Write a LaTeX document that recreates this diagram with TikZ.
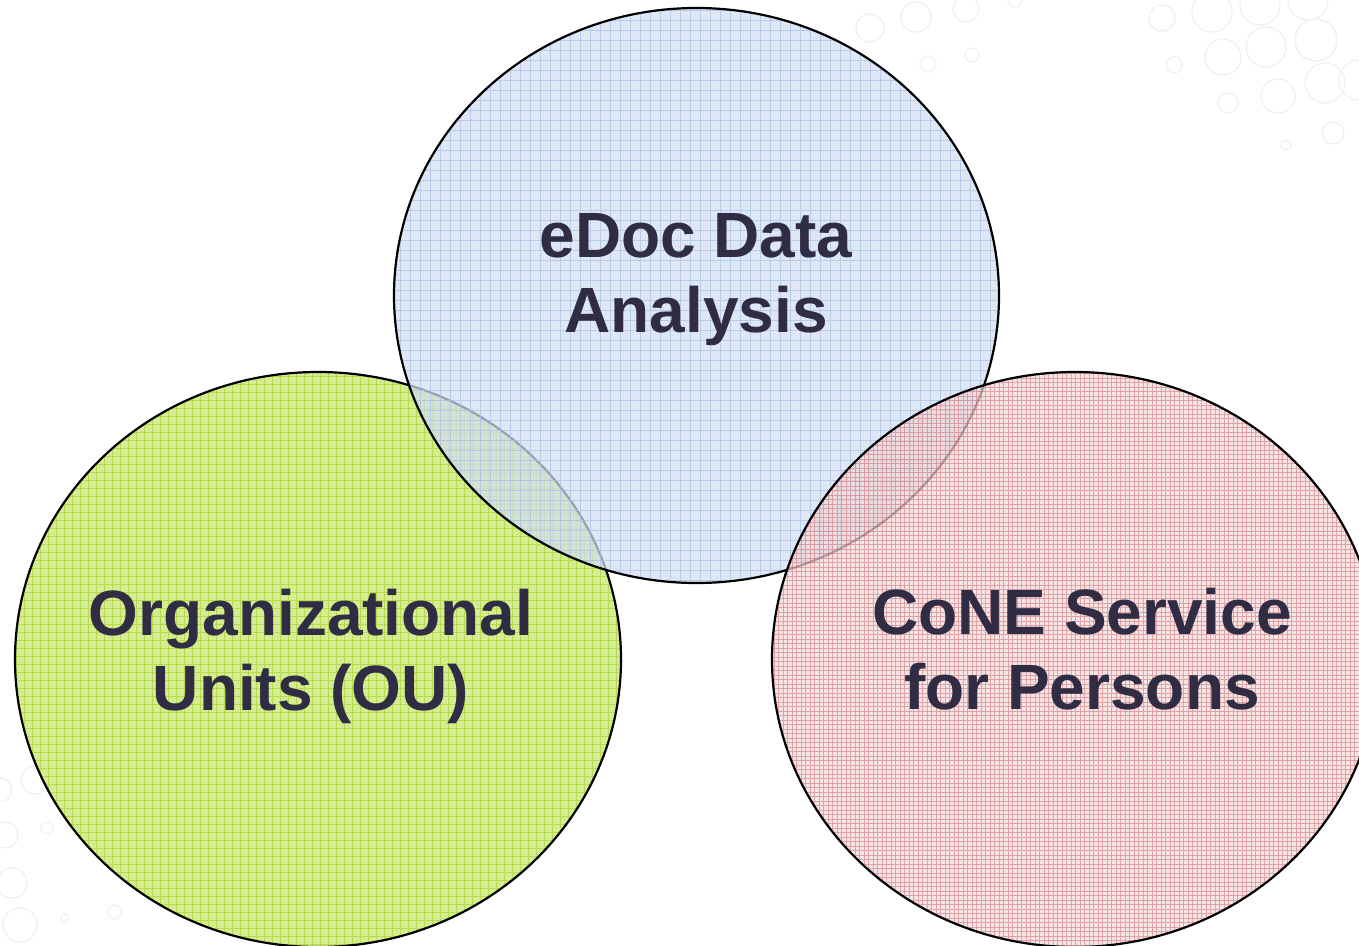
\documentclass[tikz,border=0pt]{standalone}
\usepackage{fontspec}
\setmainfont{Liberation Sans}
\definecolor{txt}{HTML}{2F2C43}
\definecolor{bluefill}{HTML}{D4DFF1}
\definecolor{blueline}{HTML}{A7C0E8}
\definecolor{greenfill}{HTML}{D2EA88}
\definecolor{greenline}{HTML}{A6D22A}
\definecolor{redfill}{HTML}{F0DADA}
\definecolor{redline}{HTML}{C4525E}
\definecolor{bubble}{HTML}{F0F0F0}
\tikzset{
  label/.style={font=\bfseries\fontsize{64}{75}\selectfont, text=txt, align=center, inner sep=0pt},
  rim/.style={draw=black, line width=2.2pt},
  bub/.style={draw=bubble, line width=1.2pt},
}
\begin{document}
\begin{tikzpicture}[x=1pt,y=-1pt]
\useasboundingbox (0,0) rectangle (1359,945);
\fill[white] (0,0) rectangle (1359,945);
% faint background bubbles
\foreach \cx/\cy/\r in {1162/18/13, 1212/12/20, 1260/5/20, 1308/0/20, 1223/57/18, 1266/47/20, 1316/40/21,
  1174/65/8, 1228/103/10, 1278/96/17, 1325/83/20, 1333/133/11, 1286/145/5, 1359/80/20,
  870/28/14, 916/17/15, 966/9/13, 928/64/8, 972/55/7, 1015/0/7,
  35/780/14, 0/790/12, 47/828/6, 5/835/13, 12/883/15, 20/925/17, 115/912/7, 65/918/4}
  \draw[bub] (\cx,\cy) circle[radius=\r];
% green ellipse
\fill[greenfill, opacity=0.9] (318,659.5) ellipse[x radius=303, y radius=287.5];
\begin{scope}
  \clip (318,659.5) ellipse[x radius=303, y radius=287.5];
  \draw[greenline, line width=0.8pt, opacity=0.65, xstep=8pt, ystep=8pt] (0,360) grid (630,950);
\end{scope}
\draw[rim] (318,659.5) ellipse[x radius=303, y radius=287.5];
% blue ellipse
\fill[bluefill, opacity=0.72] (696.5,295.5) ellipse[x radius=302.5, y radius=287.5];
\begin{scope}
  \clip (696.5,295.5) ellipse[x radius=302.5, y radius=287.5];
  \draw[blueline, line width=0.8pt, opacity=0.7, xstep=10pt, ystep=10pt] (390,0) grid (1005,590);
\end{scope}
\draw[rim] (696.5,295.5) ellipse[x radius=302.5, y radius=287.5];
% red ellipse
\fill[redfill, opacity=0.72] (1075,659.5) ellipse[x radius=303, y radius=287.5];
\begin{scope}
  \clip (1075,659.5) ellipse[x radius=303, y radius=287.5];
  \draw[redline, line width=0.5pt, opacity=0.45, xstep=4.5pt, ystep=4.5pt] (770,370) grid (1380,950);
\end{scope}
\draw[rim] (1075,659.5) ellipse[x radius=303, y radius=287.5];
% labels
\node[label] (edoc) at (696,280) {eDoc Data\\Analysis};
\node[label] (ou) at (311,656) {Organizational\\Units (OU)};
\node[label] (cone) at (1082,649) {CoNE Service\\for Persons};
\end{tikzpicture}
\end{document}
